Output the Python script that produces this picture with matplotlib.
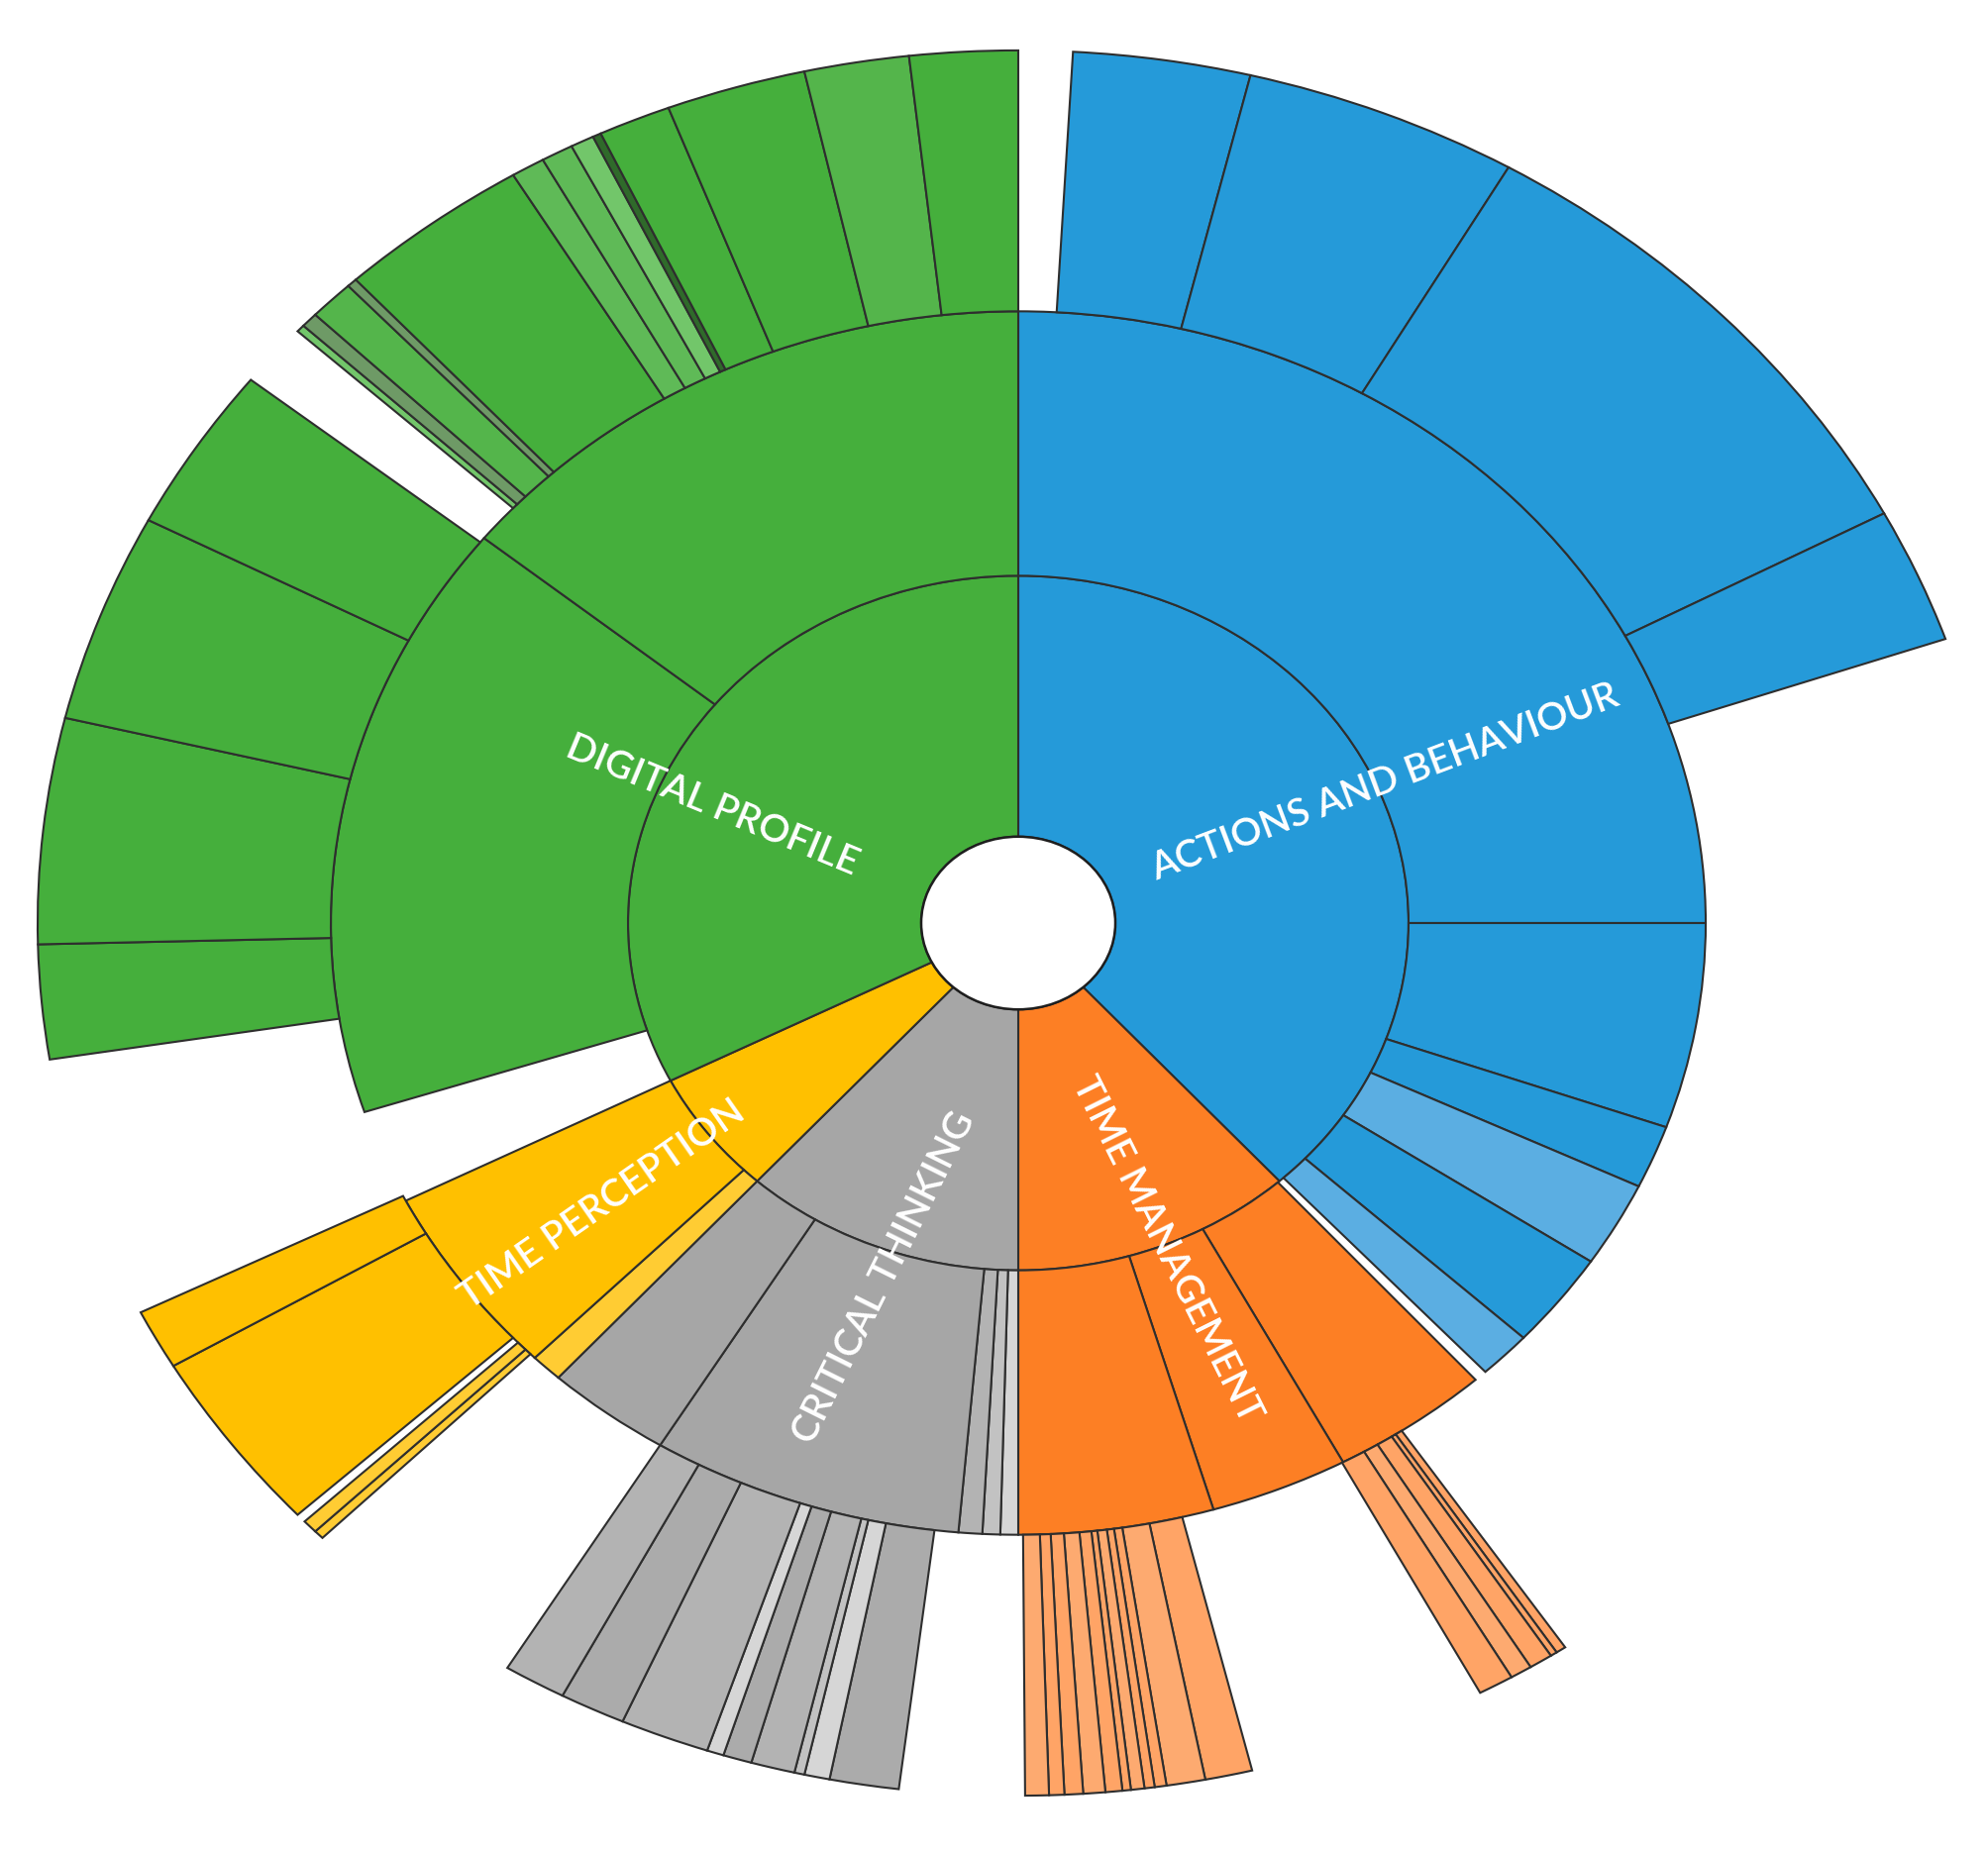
import matplotlib
matplotlib.use("Agg")
import matplotlib.pyplot as plt
from matplotlib.patches import Wedge, Ellipse
import numpy as np

# ---------------- data (angular shares, clockwise from 12 o'clock; '' = empty slot) ----
categories = ["ACTIONS AND BEHAVIOUR", "TIME MANAGEMENT", "CRITICAL THINKING",
              "TIME PERCEPTION", "DIGITAL PROFILE"]
level1_values = [138, 42, 42, 21, 117]
level1_tones = ["B", "O", "G", "Y", "N"]

level2_values = [90, 19.5, 6, 8.1, 9.1, 4.5, 1.1,          # actions and behaviour
                 13.5, 11.7, 16.5,                          # time management
                 1.5, 1.5, 2, 26.4, 10.6,                   # critical thinking
                 2.7, 18.3,                                 # time perception
                 9,                                         # empty
                 57, 51]                                    # digital profile
level2_tones = ["B", "B", "B", "b", "B", "b", "",
                "O", "O", "O",
                "g3", "g2", "g1", "G", "G",
                "y", "Y",
                "",
                "N", "N"]

level3_values = [3.2, 10.5, 16.3, 32, 9,
                 75.1,
                 0.6, 0.4, 1.4, 1.3, 2.1,
                 14.3,
                 2.8, 2.3, 0.7, 0.6, 0.8, 0.5, 1.0, 1.3, 1.1, 0.9, 1.4,
                 7.4,
                 4.1, 1.5, 0.6, 2.6, 1.7, 1.0, 5.3, 3.9, 3.7,
                 13.8,
                 0.6, 0.9, 0.6, 12.2, 4.0,
                 17.5,
                 7.6, 15, 13.9, 11,
                 4.2,
                 0.5, 1.0, 2.7, 0.6, 11.5, 2.0, 1.9, 1.4, 0.5, 4.3, 8.3, 6.2, 6.4]
level3_tones = ["", "B", "B", "B", "B",
                "",
                "o", "o", "o", "p", "o",
                "",
                "o", "p", "o", "o", "p", "o", "o", "p", "o", "o", "p",
                "",
                "g4", "g3", "g2", "g1", "g4", "g3", "g1", "g4", "g1",
                "",
                "y", "y", "", "Y", "Y",
                "",
                "N", "N", "N", "N",
                "",
                "n3", "nd", "n1", "nd", "N", "n2", "n2", "n3", "nk", "N", "N", "n1", "N"]

palette = {
    "B": "#259AD9", "b": "#5BAEE2",
    "O": "#FD7F24", "o": "#FFA466", "p": "#FDAA70",
    "G": "#A6A6A6", "g1": "#B3B3B3", "g2": "#C2C2C2", "g3": "#D6D6D6", "g4": "#ABABAB",
    "Y": "#FFC000", "y": "#FFCC33",
    "N": "#45AF3C", "n1": "#54B54B", "n2": "#5FBA57", "n3": "#72C66A",
    "nd": "#6E9A66", "nk": "#2F6A2A",
}

# ---------------- layout / style ----------------
W, H = 2008, 1871
CX, CY = 1028, 932          # centre in pixels
SQ = 0.89                   # vertical squash of the reference image
RADII = [98, 394, 694, 990]
EDGE = "#2E2E2E"

label_radius = [403, 400, 425, 528, 337]
label_angle = [66.7, 158.0, 198.6, 232.7, 293.4]
label_rotation = [20.7, -63.5, 63.5, 34.8, -22.5]

fig = plt.figure(figsize=(W / 100, H / 100), dpi=100)
ax = fig.add_axes([0, 0, 1, 1])
ax.set_xlim(-CX, W - CX)
ax.set_ylim(-(H - CY) / SQ, CY / SQ)
ax.axis("off")


def draw_ring(values, tones, r_in, r_out):
    start = 0.0
    for v, t in zip(values, tones):
        end = start + v
        if t:
            ax.add_patch(Wedge((0, 0), r_out, 90 - end, 90 - start,
                               width=r_out - r_in, facecolor=palette[t],
                               edgecolor=EDGE, linewidth=1.5, joinstyle="miter"))
        start = end


draw_ring(level1_values, level1_tones, RADII[0], RADII[1])
draw_ring(level2_values, level2_tones, RADII[1], RADII[2])
draw_ring(level3_values, level3_tones, RADII[2], RADII[3])

ax.add_patch(Ellipse((0, 0), 2 * RADII[0], 2 * RADII[0], facecolor="white",
                     edgecolor="#1E1E1E", linewidth=1.8, zorder=5))

for name, r, a, rot in zip(categories, label_radius, label_angle, label_rotation):
    th = np.radians(a)
    ax.text(r * np.sin(th), r * np.cos(th), name, color="white",
            fontsize=28, family="Lato", fontweight="semibold", rotation=rot,
            rotation_mode="anchor", ha="center", va="center", zorder=6)

fig.savefig("out.png", dpi=100, facecolor="white")
